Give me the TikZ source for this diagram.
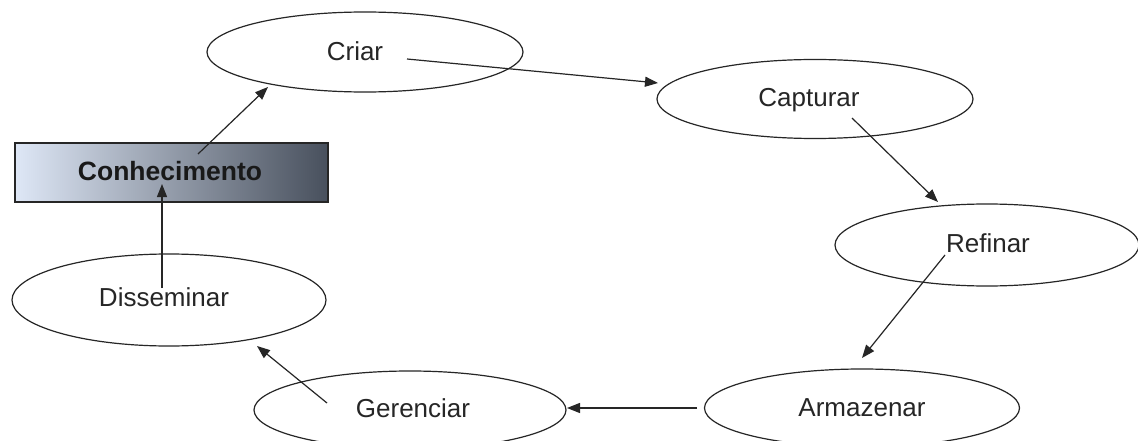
\documentclass[tikz,border=0pt]{standalone}
\usepackage{fontspec}
\setmainfont{Liberation Sans}
\usetikzlibrary{shapes.geometric,arrows.meta}
\begin{document}
\begin{tikzpicture}[x=1pt,y=-1pt,
  ell/.style={draw=black!85,line width=1.2pt,ellipse,inner sep=0pt,fill=white},
  lbl/.style={inner sep=0pt,font=\fontsize{26}{30}\selectfont,text=black!85},
  arr/.style={draw=black!85,line width=1.2pt,-{Triangle[length=13pt,width=10pt]}}]
\useasboundingbox (0,0) rectangle (1138,441);
\clip (0,0) rectangle (1138,441);
\fill[white] (0,0) rectangle (1138,441);
% ellipses
\node[ell,minimum width=316pt,minimum height=80pt] (criar) at (365,52) {};
\node[lbl] (criart) at (355,51) {Criar};
\node[ell,minimum width=316pt,minimum height=79pt] (capturar) at (815,99) {};
\node[lbl] (capturart) at (809,100) {Capturar};
\node[ell,minimum width=304pt,minimum height=82pt] (refinar) at (987,245) {};
\node[lbl] (refinart) at (988,243) {Refinar};
\node[ell,minimum width=315pt,minimum height=78pt] (armazenar) at (862,408) {};
\node[lbl] (armazenart) at (862,408) {Armazenar};
\node[ell,minimum width=312pt,minimum height=78pt] (gerenciar) at (410,410) {};
\node[lbl] (gerenciart) at (413,408) {Gerenciar};
\node[ell,minimum width=314pt,minimum height=92pt] (disseminar) at (169,300) {};
\node[lbl] (disseminart) at (164,297) {Disseminar};
% knowledge box
\node[draw=black!85,line width=1.5pt,minimum width=313pt,minimum height=59pt,inner sep=0pt,
  left color={rgb,255:red,222;green,231;blue,246},
  middle color={rgb,255:red,195;green,204;blue,218},
  right color={rgb,255:red,72;green,80;blue,93}] (conh) at (171.5,172.5) {};
\node[inner sep=0pt,font=\bfseries\fontsize{26.5}{30}\selectfont,text=black!90] (conht) at (170,171) {Conhecimento};
% connector endpoints
\coordinate (s1) at (198,154);
\coordinate (e1) at (268,87);
\coordinate (s2) at (407,59);
\coordinate (e2) at (658,83);
\coordinate (s3) at (852,118);
\coordinate (e3) at (938,202);
\coordinate (s4) at (945,255);
\coordinate (e4) at (862,358);
\coordinate (s5) at (697,408);
\coordinate (e5) at (567,408);
\coordinate (s6) at (327,403);
\coordinate (e6) at (257,346);
\coordinate (s7) at (162,288);
\coordinate (e7) at (162,184);
\draw[arr] (s1) -- (e1);
\draw[arr] (s2) -- (e2);
\draw[arr] (s3) -- (e3);
\draw[arr] (s4) -- (e4);
\draw[arr] (s5) -- (e5);
\draw[arr] (s6) -- (e6);
\draw[arr] (s7) -- (e7);
\end{tikzpicture}
\end{document}
